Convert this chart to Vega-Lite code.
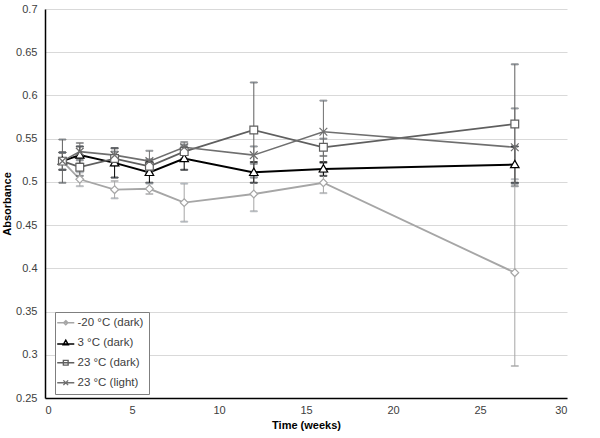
{
  "$schema": "https://vega.github.io/schema/vega-lite/v6.json",
  "width": 522,
  "height": 389,
  "autosize": "none",
  "padding": {"left": 45, "top": 9, "right": 33, "bottom": 40},
  "background": "white",
  "config": {
    "font": "Liberation Sans",
    "view": {"stroke": null},
    "axis": {"labelFont": "Liberation Sans", "titleFont": "Liberation Sans", "labelColor": "#404040", "titleColor": "#000000", "labelFontSize": 11, "titleFontSize": 11, "titleFontWeight": "bold", "ticks": false, "domainColor": "#000000", "domainWidth": 1.5, "gridColor": "#d9d9d9", "gridWidth": 1}
  },
  "data": {
    "values": [
      {"week": 1, "series": "-20 °C (dark)", "value": 0.524, "err": 0.01},
      {"week": 2, "series": "-20 °C (dark)", "value": 0.503, "err": 0.008},
      {"week": 4, "series": "-20 °C (dark)", "value": 0.491, "err": 0.01},
      {"week": 6, "series": "-20 °C (dark)", "value": 0.492, "err": 0.006},
      {"week": 8, "series": "-20 °C (dark)", "value": 0.476, "err": 0.022},
      {"week": 12, "series": "-20 °C (dark)", "value": 0.486, "err": 0.02},
      {"week": 16, "series": "-20 °C (dark)", "value": 0.499, "err": 0.012},
      {"week": 27, "series": "-20 °C (dark)", "value": 0.395, "err": 0.108},
      {"week": 1, "series": "3 °C (dark)", "value": 0.524, "err": 0.01},
      {"week": 2, "series": "3 °C (dark)", "value": 0.531, "err": 0.01},
      {"week": 4, "series": "3 °C (dark)", "value": 0.522, "err": 0.017},
      {"week": 6, "series": "3 °C (dark)", "value": 0.511, "err": 0.012},
      {"week": 8, "series": "3 °C (dark)", "value": 0.527, "err": 0.013},
      {"week": 12, "series": "3 °C (dark)", "value": 0.511, "err": 0.012},
      {"week": 16, "series": "3 °C (dark)", "value": 0.515, "err": 0.008},
      {"week": 27, "series": "3 °C (dark)", "value": 0.52, "err": 0.021},
      {"week": 1, "series": "23 °C (dark)", "value": 0.524, "err": 0.025},
      {"week": 2, "series": "23 °C (dark)", "value": 0.517, "err": 0.01},
      {"week": 4, "series": "23 °C (dark)", "value": 0.527, "err": 0.008},
      {"week": 6, "series": "23 °C (dark)", "value": 0.518, "err": 0.008},
      {"week": 8, "series": "23 °C (dark)", "value": 0.535, "err": 0.008},
      {"week": 12, "series": "23 °C (dark)", "value": 0.56, "err": 0.055},
      {"week": 16, "series": "23 °C (dark)", "value": 0.54, "err": 0.01},
      {"week": 27, "series": "23 °C (dark)", "value": 0.567, "err": 0.069},
      {"week": 1, "series": "23 °C (light)", "value": 0.524, "err": 0.01},
      {"week": 2, "series": "23 °C (light)", "value": 0.535, "err": 0.01},
      {"week": 4, "series": "23 °C (light)", "value": 0.531, "err": 0.008},
      {"week": 6, "series": "23 °C (light)", "value": 0.524, "err": 0.012},
      {"week": 8, "series": "23 °C (light)", "value": 0.54, "err": 0.006},
      {"week": 12, "series": "23 °C (light)", "value": 0.531, "err": 0.01},
      {"week": 16, "series": "23 °C (light)", "value": 0.558, "err": 0.036},
      {"week": 27, "series": "23 °C (light)", "value": 0.54, "err": 0.045}
    ]
  },
  "encoding": {
    "x": {"field": "week", "type": "quantitative", "scale": {"domain": [0, 30], "nice": false}, "axis": {"values": [0, 5, 10, 15, 20, 25, 30], "grid": false, "title": "Time (weeks)", "labelPadding": 6, "titlePadding": 4}},
    "y": {"field": "value", "type": "quantitative", "scale": {"domain": [0.25, 0.7], "nice": false, "zero": false}, "axis": {"values": [0.25, 0.3, 0.35, 0.4, 0.45, 0.5, 0.55, 0.6, 0.65, 0.7], "format": ".2~f", "title": "Absorbance", "labelPadding": 8, "titlePadding": 3}}
  },
  "layer": [
    {
      "mark": {"type": "line"},
      "encoding": {
        "color": {"field": "series", "type": "nominal",
          "scale": {"domain": ["-20 °C (dark)", "3 °C (dark)", "23 °C (dark)", "23 °C (light)"], "range": ["#a6a6a6", "#000000", "#5f5f5f", "#6f6f6f"]},
          "legend": {
            "title": null, "orient": "none", "legendX": 10, "legendY": 303,
            "strokeColor": "#7f7f7f", "fillColor": "white", "padding": 5, "rowPadding": 7,
            "labelFont": "Liberation Sans", "labelFontSize": 11.5, "labelColor": "#404040", "labelOffset": 6,
            "symbolSize": 90, "symbolStrokeWidth": 1.4, "symbolFillColor": "white",
            "encode": {"symbols": {"update": {
              "shape": {"signal": "datum.value === '-20 °C (dark)' ? 'M-1.8,0L1.8,0M0,-0.45L0.45,0L0,0.45L-0.45,0Z' : datum.value === '3 °C (dark)' ? 'M-1.8,0.25L1.8,0.25M0,-0.55L0.55,0.45L-0.55,0.45Z' : datum.value === '23 °C (dark)' ? 'M-1.8,0L1.8,0M-0.5,-0.5L0.5,-0.5L0.5,0.5L-0.5,0.5Z' : 'M-1.8,0L1.8,0M-0.5,-0.5L0.5,0.5M-0.5,0.5L0.5,-0.5'"},
              "fill": {"value": "white"}
            }}}
          }
        },
        "strokeWidth": {"field": "series", "type": "nominal", "scale": {"domain": ["3 °C (dark)", "-20 °C (dark)", "23 °C (dark)", "23 °C (light)"], "range": [2, 1.6, 1.8, 1.8]}, "legend": null}
      }
    },
    {
      "mark": {"type": "errorbar", "ticks": {"size": 7}, "thickness": 1},
      "encoding": {
        "yError": {"field": "err"},
        "stroke": {"field": "series", "type": "nominal", "scale": {"domain": ["23 °C (light)", "-20 °C (dark)", "3 °C (dark)", "23 °C (dark)"], "range": ["#6f6f6f", "#a6a6a6", "#000000", "#5f5f5f"]}, "legend": null}
      }
    },
    {
      "mark": {"type": "point", "fill": "white", "strokeWidth": 1.2, "size": 60, "opacity": 1},
      "encoding": {
        "stroke": {"field": "series", "type": "nominal", "legend": null},
        "shape": {"field": "series", "type": "nominal", "scale": {"domain": ["3 °C (dark)", "-20 °C (dark)", "23 °C (dark)", "23 °C (light)"], "range": ["M0,-1.1L1.1,0.8L-1.1,0.8Z", "M0,-1L1,0L0,1L-1,0Z", "M-1,-1L1,-1L1,1L-1,1Z", "M-1,-1L1,1M-1,1L1,-1"]}, "legend": null}
      }
    }
  ]
}
